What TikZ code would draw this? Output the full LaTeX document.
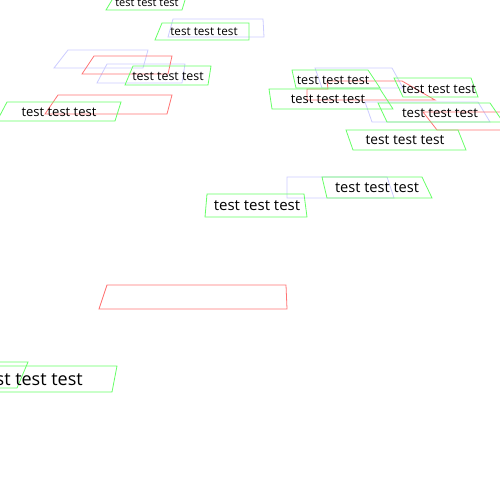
\documentclass[tikz,border=0pt]{standalone}
\usepackage{fontspec}
\setmainfont{Open Sans}
\usepackage{tikz}

\begin{document}
\begin{tikzpicture}[x=1pt, y=-1pt, line width=0.8pt,
  bluebox/.style={draw=blue!20},
  redbox/.style={draw=red!55},
  greenbox/.style={draw=green!60},
  every node/.style={inner sep=0pt, text=black}]
\useasboundingbox (0,0) rectangle (500,500);
\clip (0,0) rectangle (500,500);
% Blue frames
\foreach \xa/\xb/\xc/\xd/\yt/\yb in {173/263/264/168/19/37, 68/148/143/54/50/68,
    107/185/182/97/64/83, 315/392/403/322/68/88, 365/478/490/372/102/122,
    287/387/394/287/177/198}
    \draw[bluebox] (\xa,\yt) -- (\xb,\yt) -- (\xc,\yb) -- (\xd,\yb) -- cycle;
% Red frames
\foreach \xa/\xb/\xc/\xd/\yt/\yb in {94/172/168/82/56/74, 58/172/167/45/95/114,
    107/286/287/99/285/309, 423/520/520/437/112/130}
    \draw[redbox] (\xa,\yt) -- (\xb,\yt) -- (\xc,\yb) -- (\xd,\yb) -- cycle;
\draw[redbox] (327,81) -- (402,81) -- (435,100) -- (307,100) -- (307,89) -- (328,89) -- cycle;
% Green frames
\foreach \xa/\xb/\xc/\xd/\yt/\yb in {118/188/182/106/-10/10, 162/249/249/155/23/40,
    133/211/208/125/66/85, 7/121/115/-3/102/121, 292/368/380/296/70/88,
    269/380/393/272/89/109, 394/471/478/403/78/97, 378/490/503/387/103/122,
    346/458/466/353/130/150, 322/422/432/327/177/198, 207/304/307/205/194/217,
    -40/28/17/-40/362/388, -45/117/112/-45/366/392}
    \draw[greenbox] (\xa,\yt) -- (\xb,\yt) -- (\xc,\yb) -- (\xd,\yb) -- cycle;
% Labels
\node[font=\fontsize{11}{13}\selectfont] (t1) at (147,3) {test test test};
\node[font=\fontsize{11.7}{14}\selectfont] (t2) at (204,32) {test test test};
\node[font=\fontsize{12.4}{15}\selectfont] (t3) at (168,76) {test test test};
\node[font=\fontsize{13}{15}\selectfont] (t4) at (59,112) {test test test};
\node[font=\fontsize{12.6}{15}\selectfont] (ta) at (333,80) {test test test};
\node[font=\fontsize{12.9}{15}\selectfont] (tb) at (328,99) {test test test};
\node[font=\fontsize{12.8}{15}\selectfont] (tc) at (439,89) {test test test};
\node[font=\fontsize{13.2}{15}\selectfont] (td) at (440,113) {test test test};
\node[font=\fontsize{13.7}{16}\selectfont] (te) at (405,140) {test test test};
\node[font=\fontsize{14.6}{17}\selectfont] (tf) at (377,188) {test test test};
\node[font=\fontsize{15}{18}\selectfont] (tg) at (257,206) {test test test};
\node[font=\fontsize{18}{21}\selectfont] (ti) at (31,380) {test test test};
\end{tikzpicture}
\end{document}
